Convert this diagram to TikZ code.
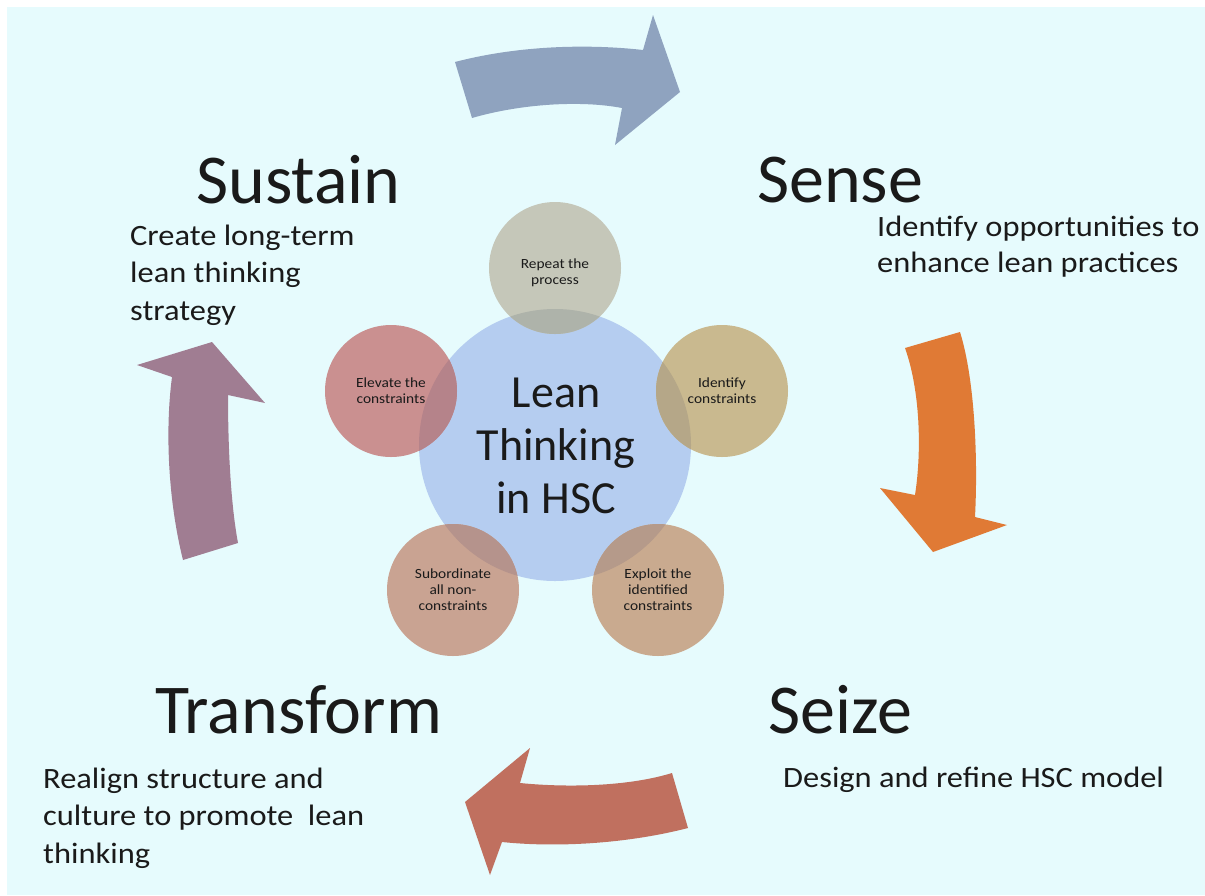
\documentclass[tikz,border=0pt]{standalone}
\usepackage{fontspec}
\setmainfont{Carlito}
\newfontfamily\widefont[FakeStretch=1.1]{Carlito}
\definecolor{bgc}{HTML}{E6FBFD}
\definecolor{hubc}{HTML}{B5CDF0}
\definecolor{repc}{HTML}{C5C7B9}
\definecolor{repd}{HTML}{AEB3AA}
\definecolor{idc}{HTML}{C9B98F}
\definecolor{idd}{HTML}{B5A788}
\definecolor{exc}{HTML}{C9AA8F}
\definecolor{exd}{HTML}{B59A8A}
\definecolor{suc}{HTML}{C9A392}
\definecolor{sud}{HTML}{B5938C}
\definecolor{elc}{HTML}{CA9090}
\definecolor{eld}{HTML}{B5838A}
\definecolor{arrT}{HTML}{8FA3BF}
\definecolor{arrR}{HTML}{E07A35}
\definecolor{arrB}{HTML}{C0705F}
\definecolor{arrL}{HTML}{A07D92}
\definecolor{txt}{HTML}{1A1A1A}
\tikzset{
  x=1pt, y=-1pt,
  disc/.style={circle, inner sep=0pt, minimum size=132pt},
  small/.style={align=center, font=\widefont\fontsize{14}{16}\selectfont, text=txt},
  big/.style={anchor=base west, font=\fontsize{70}{80}\selectfont, text=txt, inner sep=0pt},
  desc/.style={anchor=base west, align=left, font=\widefont\fontsize{29.5}{37.5}\selectfont, text=txt, inner sep=0pt}
}
\begin{document}
\begin{tikzpicture}
\useasboundingbox (0,0) rectangle (1205,895);
\fill[white] (0,0) rectangle (1205,895);
\fill[bgc] (7,7) rectangle (1205,895);

% block arrows
\fill[arrT] (455,62) .. controls (520,45) and (590,44) .. (643,50) -- (653,15) -- (680,92) -- (615,145) -- (622,108) .. controls (580,100) and (520,104) .. (472,118) -- cycle;
\fill[arrR] (905,348) -- (960,332) .. controls (975,380) and (978,460) .. (975,517) -- (1007,525) -- (933,552) -- (880,488) -- (915,495) .. controls (922,450) and (920,390) .. (905,348) -- cycle;
\fill[arrB] (672,773) -- (688,828) .. controls (630,843) and (560,848) .. (502,842) -- (490,875) -- (465,802) -- (530,748) -- (520,783) .. controls (570,788) and (630,786) .. (672,773) -- cycle;
\fill[arrL] (183,560) -- (238,543) .. controls (230,500) and (228,440) .. (228,395) -- (265,403) -- (212,342) -- (137,365) -- (172,377) .. controls (165,430) and (168,500) .. (183,560) -- cycle;

% hub
\node[circle, inner sep=0pt, minimum size=272pt, fill=hubc] (hub) at (555,445) {};

% satellites
\node[disc, fill=repc] (rep) at (555,268) {};
\node[disc, fill=idc] (ide) at (722,391) {};
\node[disc, fill=exc] (exp) at (658,590) {};
\node[disc, fill=suc] (sub) at (453,590) {};
\node[disc, fill=elc] (ele) at (391,391) {};

% overlaps
\begin{scope}
\clip (hub.center) circle (136pt);
\fill[repd] (rep.center) circle (66pt);
\fill[idd] (ide.center) circle (66pt);
\fill[exd] (exp.center) circle (66pt);
\fill[sud] (sub.center) circle (66pt);
\fill[eld] (ele.center) circle (66pt);
\end{scope}

% texts of circles
\node[small] (tRep) at ([yshift=-5pt]rep.center) {Repeat the\\process};
\node[small] (tIde) at (ide.center) {Identify\\constraints};
\node[small] (tExp) at (exp.center) {Exploit the\\identified\\constraints};
\node[small] (tSub) at (sub.center) {Subordinate\\all non-\\constraints};
\node[small] (tEle) at (ele.center) {Elevate the\\constraints};
\node[align=center, font=\fontsize{46}{53}\selectfont, text=txt] (tHub) at (556,446) {Lean\\Thinking\\in HSC};

% stage titles
\node[big] (sustain) at (196,203) {Sustain};
\node[big] (sense) at (757,202) {Sense};
\node[big] (seize) at (768,733) {Seize};
\node[big] (transform) at (155,733) {Transform};

% descriptions (anchored at the baseline of their last line)
\node[desc] (dSustain) at (130,320) {Create long-term\\lean thinking\\strategy};
\node[desc, font=\widefont\fontsize{29.5}{35.5}\selectfont] (dSense) at (877,272) {Identify opportunities to\\enhance lean practices};
\node[desc] (dSeize) at (783,787) {Design and refine HSC model};
\node[desc] (dTransform) at (43,863) {Realign structure and\\culture to promote\ \ lean\\thinking};
\end{tikzpicture}
\end{document}
